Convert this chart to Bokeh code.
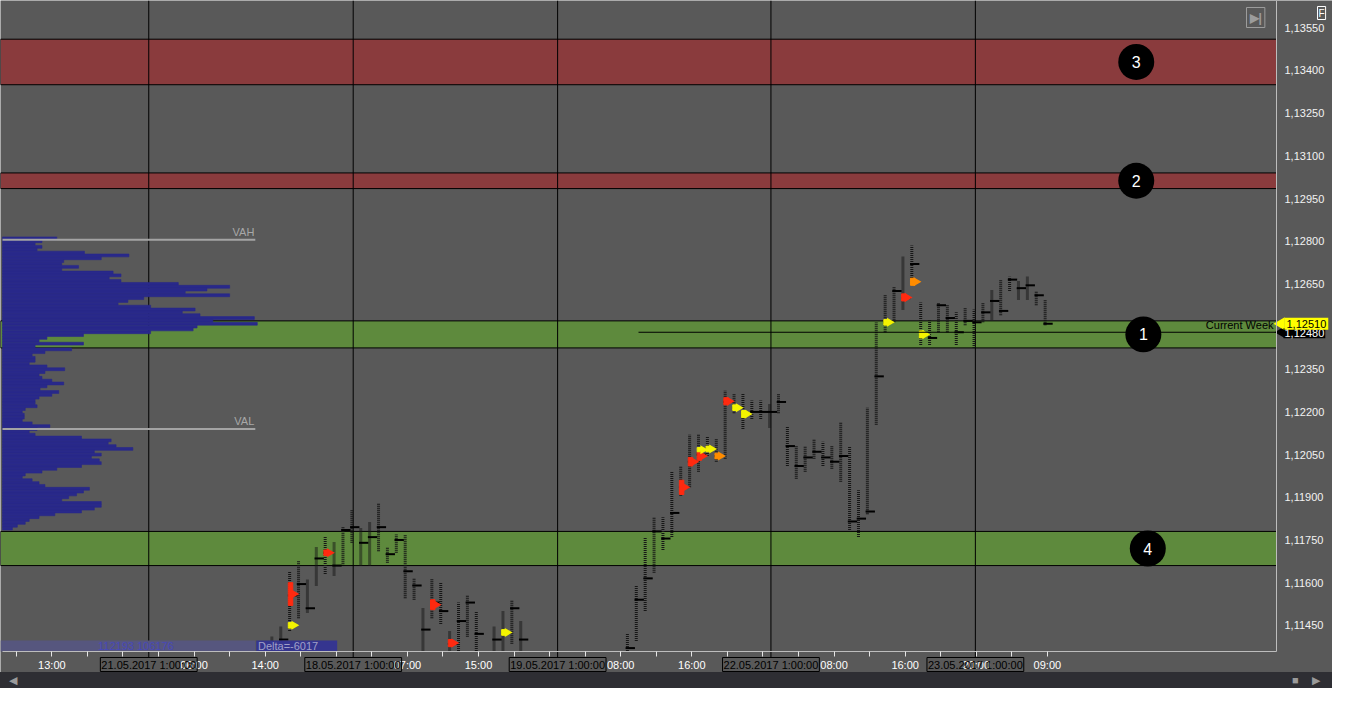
from bokeh.plotting import figure
from bokeh.models import Range1d, FixedTicker, CustomJSTickFormatter, Label, ColumnDataSource, Div
from bokeh.transform import dodge
from bokeh.layouts import column
from bokeh.embed import file_html
from bokeh.resources import INLINE
from bokeh.core.properties import value

# ---------------- data ----------------
xtick_pos = list(range(0, 117, 4))
xlabel_pos = [4, 20, 28, 44, 52, 68, 76, 92, 100, 108, 116]
xlabel_text = ["13:00", "06:00", "14:00", "07:00", "15:00", "08:00", "16:00", "08:00", "16:00", "20:00", "09:00"]

sep_x = [14.9, 37.9, 60.9, 84.9, 107.9]
sep_text = ["21.05.2017 1:00:00", "18.05.2017 1:00:00", "19.05.2017 1:00:00",
            "22.05.2017 1:00:00", "23.05.2017 1:00:00"]

ytick_pos = [1.11450, 1.11600, 1.11750, 1.11900, 1.12050, 1.12200, 1.12350,
             1.12650, 1.12800, 1.12950, 1.13100, 1.13250, 1.13400, 1.13550]

zone_name = ["1", "2", "3", "4"]
zone_lo = [1.12425, 1.12985, 1.13350, 1.11660]
zone_hi = [1.12520, 1.13040, 1.13510, 1.11780]
zone_color = ["#5e8a3d", "#8a3b3d", "#8a3b3d", "#5e8a3d"]

bar_x = [28, 29, 30, 31, 32, 33, 34, 35, 36, 37, 38, 39, 40, 41, 42, 43, 44, 45, 46, 47, 48, 49, 50, 51,
         53, 54, 55, 56,
         68, 69, 70, 71, 72, 73, 74, 75, 76, 77, 78, 79, 80, 81, 82, 83, 84, 85,
         86, 87, 88, 89, 90, 91, 92, 93, 94, 95, 96, 97, 98, 99, 100, 101, 102, 103, 104, 105,
         106, 107, 108, 109, 110, 111, 112, 113, 114, 115]
bar_high = [1.11410, 1.11445, 1.11640, 1.11675, 1.11610, 1.11725, 1.11760, 1.11745, 1.11795, 1.11855,
            1.11790, 1.11815, 1.11880, 1.11725, 1.11770, 1.11770, 1.11615, 1.11510, 1.11615, 1.11600,
            1.11430, 1.11530, 1.11555, 1.11500,
            1.11445, 1.11500, 1.11540, 1.11465,
            1.11420, 1.11590, 1.11760, 1.11830, 1.11830, 1.11990, 1.12010, 1.12120, 1.12120, 1.12115,
            1.12105, 1.12275, 1.12265, 1.12265, 1.12240, 1.12240, 1.12230, 1.12265,
            1.12150, 1.12080, 1.12080, 1.12105, 1.12095, 1.12080, 1.12165, 1.12080, 1.11925, 1.12215,
            1.12515, 1.12610, 1.12640, 1.12745, 1.12785, 1.12585, 1.12525, 1.12585, 1.12575, 1.12550,
            1.12565, 1.12560, 1.12585, 1.12630, 1.12665, 1.12675, 1.12660, 1.12675, 1.12625, 1.12595]
bar_low = [1.11330, 1.11330, 1.11430, 1.11475, 1.11495, 1.11590, 1.11630, 1.11625, 1.11665, 1.11740,
           1.11660, 1.11660, 1.11710, 1.11670, 1.11705, 1.11545, 1.11540, 1.11330, 1.11475, 1.11455,
           1.11330, 1.11360, 1.11410, 1.11360,
           1.11330, 1.11330, 1.11385, 1.11330,
           1.11360, 1.11395, 1.11500, 1.11635, 1.11715, 1.11760, 1.11905, 1.11935, 1.11990, 1.12045,
           1.12025, 1.12035, 1.12195, 1.12140, 1.12175, 1.12175, 1.12145, 1.12195,
           1.12010, 1.11965, 1.11990, 1.12035, 1.12010, 1.12000, 1.11955, 1.11785, 1.11760, 1.11840,
           1.12155, 1.12480, 1.12515, 1.12560, 1.12650, 1.12435, 1.12435, 1.12480, 1.12480, 1.12435,
           1.12505, 1.12425, 1.12515, 1.12525, 1.12540, 1.12625, 1.12595, 1.12595, 1.12575, 1.12505]
bar_poc = [1.11385, 1.11400, 1.11555, 1.11595, 1.11510, 1.11685, 1.11705, 1.11660, 1.11785, 1.11795,
           1.11740, 1.11760, 1.11795, 1.11700, 1.11750, 1.11640, 1.11590, 1.11435, 1.11530, 1.11500,
           1.11385, 1.11465, 1.11530, 1.11420,
           1.11400, 1.11425, 1.11510, 1.11400,
           1.11370, 1.11540, 1.11615, 1.11780, 1.11755, 1.11845, 1.11935, 1.12025, 1.12050, 1.12070,
           1.12045, 1.12235, 1.12215, 1.12190, 1.12200, 1.12200, 1.12200, 1.12235,
           1.12080, 1.12010, 1.12040, 1.12060, 1.12040, 1.12025, 1.12045, 1.11815, 1.11825, 1.11850,
           1.12325, 1.12515, 1.12625, 1.12600, 1.12720, 1.12470, 1.12460, 1.12575, 1.12530, 1.12480,
           1.12520, 1.12515, 1.12550, 1.12590, 1.12555, 1.12665, 1.12635, 1.12645, 1.12610, 1.12510]

mark_x = [30, 30, 34, 46, 48, 54, 74, 75, 76, 76, 77, 78, 79, 80, 81, 97, 99, 100, 101]
mark_lo = [1.11520, 1.11440, 1.11695, 1.11505, 1.11375, 1.11415, 1.11910, 1.12010, 1.12030, 1.12060,
           1.12060, 1.12035, 1.12225, 1.12205, 1.12180, 1.12505, 1.12590, 1.12645, 1.12460]
mark_hi = [1.11600, 1.11460, 1.11715, 1.11540, 1.11400, 1.11435, 1.11960, 1.12040, 1.12060, 1.12075,
           1.12080, 1.12055, 1.12250, 1.12225, 1.12205, 1.12525, 1.12615, 1.12670, 1.12485]
mark_kind = ["red", "yellow", "red", "red", "red", "yellow", "red", "red", "red", "yellow",
             "yellow", "orange", "red", "yellow", "yellow", "yellow", "red", "orange", "yellow"]

prof_top = 1.12810
prof_vol = [55, 40, 33, 40, 35, 83, 128, 100, 62, 60, 77, 60, 112, 120, 108, 120, 178, 230, 207, 185,
            230, 143, 127, 117, 150, 195, 182, 200, 255, 213, 258, 197, 193, 150, 82, 45, 37, 82, 33, 70,
            43, 30, 33, 33, 27, 45, 63, 43, 37, 40, 50, 62, 45, 38, 57, 50, 37, 33, 33, 35,
            23, 20, 22, 22, 20, 30, 48, 35, 27, 33, 80, 110, 107, 115, 132, 93, 100, 90, 98, 100,
            80, 55, 40, 23, 20, 30, 37, 43, 88, 82, 75, 67, 60, 100, 100, 93, 80, 53, 37, 27,
            23, 15, 10]
vah, val = 1.12805, 1.12140
profile_totals = "112193 106176"
delta_text = "Delta=-6017"

current_price = 1.12510
week_price = 1.12480
week_start = 70

# ---------------- layout ----------------
FONT = "Liberation Sans"
BG = "#595959"
W, H = 1332, 672
PLOT_W, PLOT_H = 1274, 651          # price/time area inside the frame
x0, x1 = -1.556, 141.78             # time span of the price area
y0, y1 = 1.11358, 1.13646           # price span of the price area
px = (x1 - x0) / PLOT_W
py = (y1 - y0) / PLOT_H
xa, xb = x0 - 2 * px, x1 + (W - 2 - PLOT_W) * px
ya_, yb = y0 - (H - PLOT_H) * py, y1

p = figure(width=W, height=H, output_backend="svg", toolbar_location=None,
           x_range=Range1d(xa, xb), y_range=Range1d(ya_, yb),
           y_axis_location="right", min_border_left=0, min_border_right=0,
           min_border_top=0, min_border_bottom=0,
           background_fill_color=BG, border_fill_color=BG, outline_line_color=None)
p.grid.visible = False

xax = p.xaxis[0]
xax.fixed_location = y0
xax.bounds = (x0, x1)
xax.ticker = FixedTicker(ticks=xtick_pos)
over = {t: "" for t in xtick_pos}
for t, s in zip(xlabel_pos, xlabel_text):
    over[t] = s
xax.major_label_overrides = over
xax.major_tick_in = 0
xax.major_tick_out = 5
xax.minor_tick_out = 0
xax.minor_tick_in = 0
xax.axis_line_color = "#bdbdbd"
xax.major_tick_line_color = "#e6e6e6"
xax.major_label_text_color = "#ffffff"
xax.major_label_text_font = FONT
xax.major_label_text_font_size = "11px"
xax.major_label_standoff = 2

yax = p.yaxis[0]
yax.fixed_location = x1
yax.bounds = (y0, y1)
yax.ticker = FixedTicker(ticks=ytick_pos)
yax.formatter = CustomJSTickFormatter(code="return tick.toFixed(5).replace('.', ',');")
yax.major_tick_in = 0
yax.major_tick_out = 0
yax.minor_tick_in = 0
yax.minor_tick_out = 0
yax.axis_line_color = "#bdbdbd"
yax.major_label_text_color = "#f2f2f2"
yax.major_label_text_font = FONT
yax.major_label_text_font_size = "11px"
yax.major_label_standoff = 8

# zones
p.quad(left=x0 - 2 * px, right=x1, bottom=zone_lo, top=zone_hi, fill_color=zone_color,
       line_color="black", line_width=1)
# session separators (run down to the date tags)
p.segment(x0=sep_x, x1=sep_x, y0=y0 - 6 * py, y1=y1, line_color="black", line_width=1)

# volume profile
prof_y = [prof_top - 0.0001 * k for k in range(len(prof_vol))]
prof_right = [x0 + v / 9.0 for v in prof_vol]
p.hbar(y=prof_y, left=x0, right=prof_right, height=0.0001, fill_color="#29298a",
       line_color="#29298a", line_width=0.6)
va_end = x0 + 256 / 9.0
p.segment(x0=[x0, x0], x1=[va_end, va_end], y0=[vah, val], y1=[vah, val],
          line_color="#a4a4a4", line_width=2)
p.text(x=[va_end, va_end], y=[vah, val], text=["VAH", "VAL"], text_align="right",
       text_baseline="bottom", x_offset=-1, y_offset=-2, text_color="#a8a8a8",
       text_font=value(FONT), text_font_size="11px")

# footprint bars (cut at the bottom of the price area)
src = ColumnDataSource(dict(x=bar_x, hi=bar_high, lo=[max(v, y0) for v in bar_low], poc=bar_poc))
p.segment(x0=dodge("x", 0.75, range=p.x_range), x1=dodge("x", 0.75, range=p.x_range),
          y0="lo", y1="hi", source=src, line_color="#161616", line_width=3, line_dash="1 1")
p.segment(x0=dodge("x", 0.55, range=p.x_range), x1=dodge("x", 1.6, range=p.x_range),
          y0="poc", y1="poc", source=src, line_color="#000000", line_width=2)

cmap = {"red": "#ff2a10", "orange": "#ff8c00", "yellow": "#f4f400"}
msrc = ColumnDataSource(dict(x=mark_x, lo=mark_lo, hi=mark_hi,
                             mid=[(a + b) / 2 for a, b in zip(mark_lo, mark_hi)],
                             c=[cmap[k] for k in mark_kind]))
p.vbar(x=dodge("x", 0.85, range=p.x_range), bottom="lo", top="hi", width=0.5, source=msrc,
       fill_color="c", line_color="c")
p.scatter(x=dodge("x", 1.25, range=p.x_range), y="mid", source=msrc, marker="triangle",
          angle=-1.5708, size=9, fill_color="c", line_color=None)

# current week
p.segment(x0=[week_start], x1=[x1], y0=[week_price], y1=[week_price], line_color="black", line_width=1)
p.text(x=[x1], y=[week_price], text=["Current Week"], text_align="right", text_baseline="bottom",
       x_offset=-3, y_offset=-1, text_color="black", text_font=value(FONT), text_font_size="11px")

# zone badges
badge_x = [126.8, 126.0, 126.0, 127.3]
badge_y = [(a + b) / 2 for a, b in zip(zone_lo, zone_hi)]
p.scatter(x=badge_x, y=badge_y, size=36, fill_color="black", line_color=None)
p.text(x=badge_x, y=badge_y, text=zone_name, text_align="center", text_baseline="middle",
       text_color="white", text_font=value(FONT), text_font_size="16px")

# bottom info bands
p.quad(left=[x0 - 2 * px], right=[va_end], bottom=[y0], top=[y0 + 11 * py], fill_color="#56567e",
       line_color=None)
p.quad(left=[va_end + 0.1], right=[va_end + 0.1 + 82 / 9.0], bottom=[y0], top=[y0 + 11 * py],
       fill_color="#35358f", line_color=None)
p.text(x=[x0 + 135 / 9.0], y=[y0 + 5.5 * py], text=[profile_totals], text_align="center",
       text_baseline="middle", text_color="#4848b8", text_font=value(FONT), text_font_size="11px")
p.text(x=[va_end + 0.3], y=[y0 + 5.5 * py], text=[delta_text], text_align="left",
       text_baseline="middle", text_color="#a0a0c8", text_font=value(FONT), text_font_size="11px")

# date tags under the axis
for sx, st in zip(sep_x, sep_text):
    p.add_layout(Label(x=sx, y=y0 - 6 * py, text=st, text_align="center", text_baseline="top",
                       text_color="black", text_font=FONT, text_font_size="11px",
                       border_line_color="black", border_line_width=1, padding=1))

# price tags on the axis
p.scatter(x=[x1 + 4.5 * px], y=[week_price], marker="triangle", angle=1.5708, size=11,
          fill_color="black", line_color=None)
p.add_layout(Label(x=x1 + 7 * px, y=week_price, text="1,12480", text_align="left", text_baseline="middle",
                   y_offset=-1, text_color="white", text_font=FONT, text_font_size="11px",
                   background_fill_color="black", padding=1))
p.scatter(x=[x1 + 4.5 * px], y=[current_price], marker="triangle", angle=1.5708, size=13,
          fill_color="#ffff00", line_color=None)
p.add_layout(Label(x=x1 + 8 * px, y=current_price, text="1,12510", text_align="left", text_baseline="middle",
                   text_color="black", text_font=FONT, text_font_size="11px",
                   background_fill_color="#ffff00", padding=2))

# corner widgets
p.add_layout(Label(x=x1 + 41 * px, y=y1 - 6 * py, text="F", text_align="left", text_baseline="top",
                   text_color="white", text_font=FONT, text_font_size="10px",
                   border_line_color="white", border_line_width=1, padding=1))
p.add_layout(Label(x=x1 - 30 * px, y=y1 - 7 * py, text="▶|", text_align="left", text_baseline="top",
                   text_color="#9c9c9c", text_font=FONT, text_font_size="12px", text_font_style="bold",
                   border_line_color="#9c9c9c", border_line_width=1, padding=3))

scroll = Div(width=W, height=16, margin=0,
             styles={"background-color": "#2e2e33"},
             text=('<div style="position:relative;width:%dpx;height:16px;font-family:Liberation Sans;">'
                   '<span style="position:absolute;left:9px;top:1px;color:#9a9a9a;font-size:11px;">&#9664;</span>'
                   '<span style="position:absolute;left:%dpx;top:1px;color:#9a9a9a;font-size:11px;">&#9632;</span>'
                   '<span style="position:absolute;left:%dpx;top:1px;color:#9a9a9a;font-size:11px;">&#9654;</span>'
                   '</div>') % (W, W - 40, W - 20))

layout = column(p, scroll, spacing=0)
open("out.html", "w").write(file_html(layout, INLINE))
